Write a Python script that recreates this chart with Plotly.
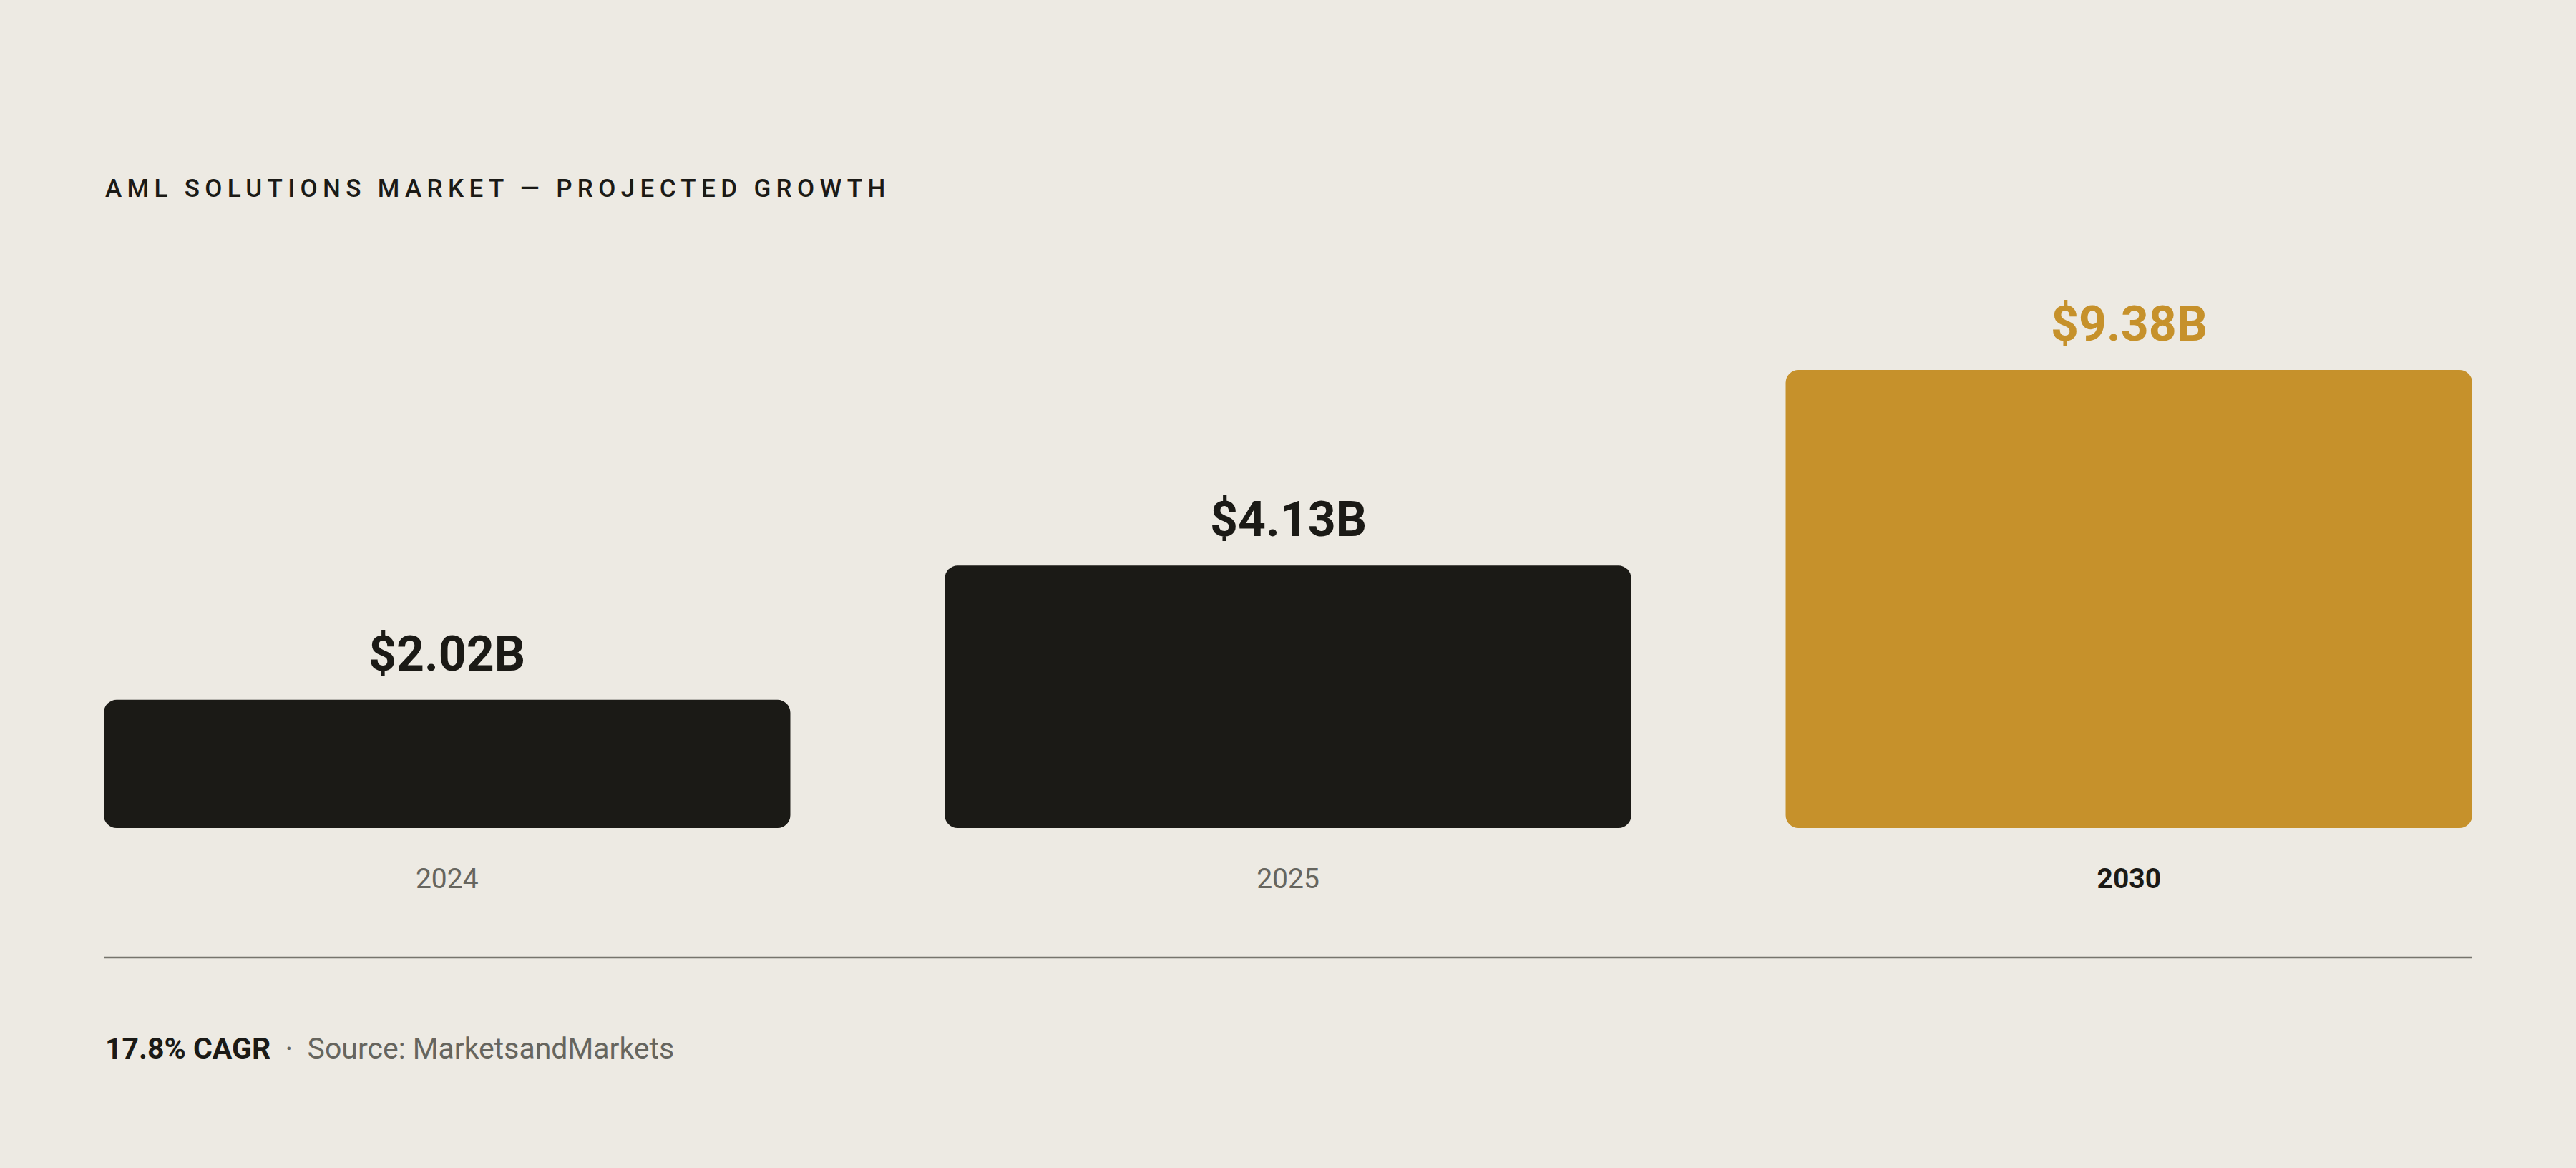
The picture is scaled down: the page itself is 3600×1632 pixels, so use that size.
import plotly.graph_objects as go

# ---- data ----
years = ["2024", "2025", "2030"]
values = [2.02, 4.13, 9.38]               # market size, $B (bar labels)
bar_heights = [28.0, 57.3, 100.0]         # drawn bar height, % of tallest bar
value_labels = ["$2.02B", "$4.13B", "$9.38B"]
highlight = [False, False, True]

title_text = "AML SOLUTIONS MARKET \u2014 PROJECTED GROWTH"
cagr_text = "17.8% CAGR"
source_text = "Source: MarketsandMarkets"

BG = "#EDEAE3"
DARK = "#1B1A16"
GOLD = "#C6912B"
GREY = "#66655E"
RULE = "#76746C"
FONT = "Roboto"

W, H = 3600, 1632
ML, MR, MT, MB = 145, 145, 453, 475
PLOT_H = H - MT - MB
BAR_FRAC = 0.8164   # bar width as a fraction of category spacing

xpos = list(range(len(years)))
bar_colors = [GOLD if h else DARK for h in highlight]

fig = go.Figure()
fig.add_trace(go.Bar(
    x=xpos, y=bar_heights, base=[0] * len(years),
    marker=dict(color=bar_colors, cornerradius=18, line=dict(width=0)),
    hoverinfo="skip", showlegend=False,
))

# value labels above bars
for xi, h, lab, hl in zip(xpos, bar_heights, value_labels, highlight):
    fig.add_annotation(
        x=xi, y=h, xref="x", yref="y", text=f"<b>{lab}</b>", showarrow=False,
        yanchor="middle", yshift=64,
        font=dict(family=FONT, size=68, color=GOLD if hl else DARK),
    )

tick_text = [f"<b>{y}</b>" if hl else y for y, hl in zip(years, highlight)]
tick_color = [DARK if hl else GREY for hl in highlight]
tick_text = [f"<span style='color:{c}'>{t}</span>" for t, c in zip(tick_text, tick_color)]


def py(px):
    return (H - MB - px) / PLOT_H


# title
fig.add_annotation(
    x=0, y=py(264), xref="paper", yref="paper", xanchor="left", yanchor="middle",
    align="left", text=title_text, showarrow=False,
    font=dict(family=FONT, size=35, color=DARK, weight=500),
)
# footer
fig.add_annotation(
    x=0, y=py(1465), xref="paper", yref="paper", xanchor="left", yanchor="middle",
    align="left", showarrow=False,
    text=f"<b>{cagr_text}</b><span style='color:{GREY}'>  \u00b7  {source_text}</span>",
    font=dict(family=FONT, size=41, color=DARK),
)
# divider rule
fig.add_shape(type="line", xref="paper", yref="paper", x0=0, x1=1,
              y0=py(1338), y1=py(1338), line=dict(color=RULE, width=2.5))

half = BAR_FRAC / 2
fig.update_layout(
    width=W, height=H,
    margin=dict(l=ML, r=MR, t=MT, b=MB, pad=0),
    paper_bgcolor=BG, plot_bgcolor=BG,
    bargap=1 - BAR_FRAC,
    font=dict(family=FONT, color=DARK),
    xaxis=dict(
        range=[-half, len(years) - 1 + half],
        tickmode="array", tickvals=xpos, ticktext=tick_text,
        tickfont=dict(family=FONT, size=39, color=GREY),
        showgrid=False, zeroline=False, showline=False, ticks="",
        ticklabelstandoff=44, fixedrange=True,
    ),
    yaxis=dict(range=[0, 110], visible=False, fixedrange=True),
    showlegend=False,
)

post = """
document.documentElement.style.margin = '0';
document.body.style.margin = '0';
document.body.style.background = '%s';
var gd = document.getElementById('{plot_id}');
function ls(){
  gd.querySelectorAll('text.annotation-text').forEach(function(t){
    if (t.textContent.indexOf('AML') === 0) { t.style.letterSpacing = '0.21em'; }
  });
}
ls();
gd.on('plotly_afterplot', ls);
""" % BG

fig.write_html("out.html", config={"displayModeBar": False, "staticPlot": True},
               post_script=post)
